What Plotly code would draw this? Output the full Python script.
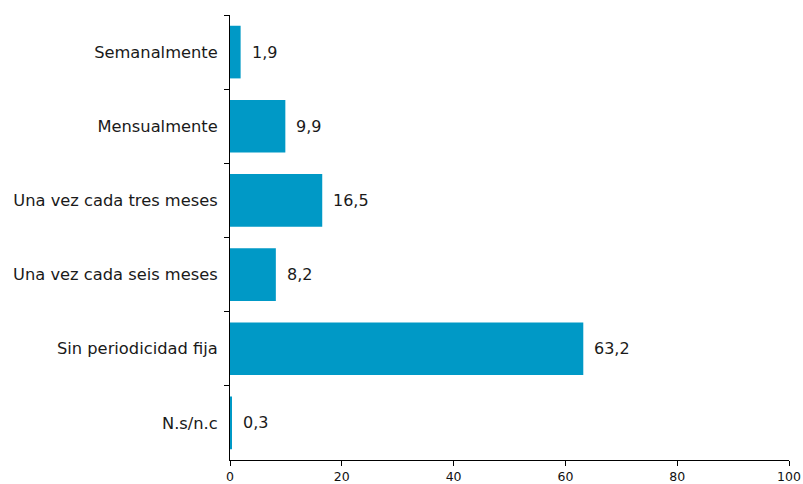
import plotly.graph_objects as go

categories = ["Semanalmente", "Mensualmente", "Una vez cada tres meses",
              "Una vez cada seis meses", "Sin periodicidad fija", "N.s/n.c"]
values = [1.9, 9.9, 16.5, 8.2, 63.2, 0.3]
x_ticks = [0, 20, 40, 60, 80, 100]

bar_color = "#0099C6"

fig = go.Figure()
fig.add_trace(go.Bar(
    x=values, y=categories, orientation="h",
    marker=dict(color=bar_color, line=dict(width=0)),
    hoverinfo="skip",
))

for c, v in zip(categories, values):
    fig.add_annotation(x=v, y=c, text=f"{v:.1f}".replace(".", ","),
                       xanchor="left", yanchor="middle", xshift=9, showarrow=False,
                       font=dict(family="DejaVu Sans", size=16, color="#1a1a1a"))

fig.update_layout(
    width=803, height=484,
    margin=dict(l=230, r=14, t=15, b=24),
    plot_bgcolor="white", paper_bgcolor="white",
    bargap=0.29,
    showlegend=False,
    separators=",.",
)
fig.update_xaxes(range=[0, 100], tickvals=x_ticks, ticks="outside", ticklen=5,
                 tickcolor="black", showline=True, linecolor="black", linewidth=1,
                 showgrid=False, zeroline=False, automargin=False,
                 ticklabelstandoff=0,
                 tickfont=dict(family="DejaVu Sans", size=12.5, color="#111111"))
fig.update_yaxes(categoryorder="array", categoryarray=categories, autorange="reversed",
                 ticks="outside", ticklen=5, tickcolor="black", tickson="boundaries",
                 showline=True, linecolor="black", linewidth=1, showgrid=False,
                 ticklabelstandoff=8, automargin=False,
                 tickfont=dict(family="DejaVu Sans", size=16.3, color="#1a1a1a"))

fig.write_html("out.html")
